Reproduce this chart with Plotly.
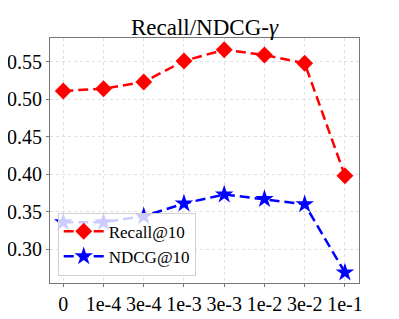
import plotly.graph_objects as go

categories = ["0", "1e-4", "3e-4", "1e-3", "3e-3", "1e-2", "3e-2", "1e-1"]
recall = [0.511, 0.514, 0.523, 0.551, 0.566, 0.559, 0.548, 0.398]
ndcg = [0.336, 0.336, 0.344, 0.361, 0.373, 0.367, 0.360, 0.269]
y_ticks = [0.30, 0.35, 0.40, 0.45, 0.50, 0.55]

xs = list(range(len(categories)))
font = "Liberation Serif, Times New Roman, serif"

fig = go.Figure()
fig.add_trace(go.Scatter(x=xs, y=recall, name="Recall@10", mode="lines+markers",
                         line=dict(color="#ff0000", width=2.5, dash="10px,5px"),
                         marker=dict(symbol="diamond", size=13, color="#ff0000")))
fig.add_trace(go.Scatter(x=xs, y=ndcg, name="NDCG@10", mode="lines+markers",
                         line=dict(color="#0000ff", width=2.5, dash="10px,5px"),
                         marker=dict(symbol="star", size=14, color="#0000ff")))

# page body has an 8px default margin, so the figure is sized to fit the window
fig.update_layout(
    width=391, height=311,
    margin=dict(l=42, r=40, t=30, b=36),
    paper_bgcolor="white", plot_bgcolor="white",
    font=dict(family=font, color="black"),
    title=dict(text="Recall/NDCG-<i>γ</i>", x=0.5, xanchor="center", xref="paper",
               y=0.94, yanchor="middle", font=dict(size=23, family=font)),
    showlegend=True,
    legend=dict(x=0.025, y=0.03, xanchor="left", yanchor="bottom",
                bgcolor="rgba(255,255,255,0.8)", bordercolor="#d0d0d0", borderwidth=1,
                itemwidth=40, tracegroupgap=2,
                font=dict(size=17, family=font)),
)
fig.update_xaxes(tickmode="array", tickvals=xs, ticktext=categories, range=[-0.33, 7.35],
                 showgrid=True, gridcolor="#e0e0e0", griddash="dot", gridwidth=1,
                 showline=True, linecolor="#777777", linewidth=1, mirror=True,
                 ticks="outside", ticklen=3, tickcolor="#777777", automargin=False,
                 tickfont=dict(size=20, family=font), zeroline=False)
fig.update_yaxes(tickmode="array", tickvals=y_ticks, ticktext=[f"{v:.2f}" for v in y_ticks],
                 range=[0.255, 0.5816],
                 showgrid=True, gridcolor="#e0e0e0", griddash="dot", gridwidth=1,
                 showline=True, linecolor="#777777", linewidth=1, mirror=True,
                 ticks="outside", ticklen=3, tickcolor="#777777", automargin=False,
                 tickfont=dict(size=20, family=font), zeroline=False)

fig.write_html("out.html")
